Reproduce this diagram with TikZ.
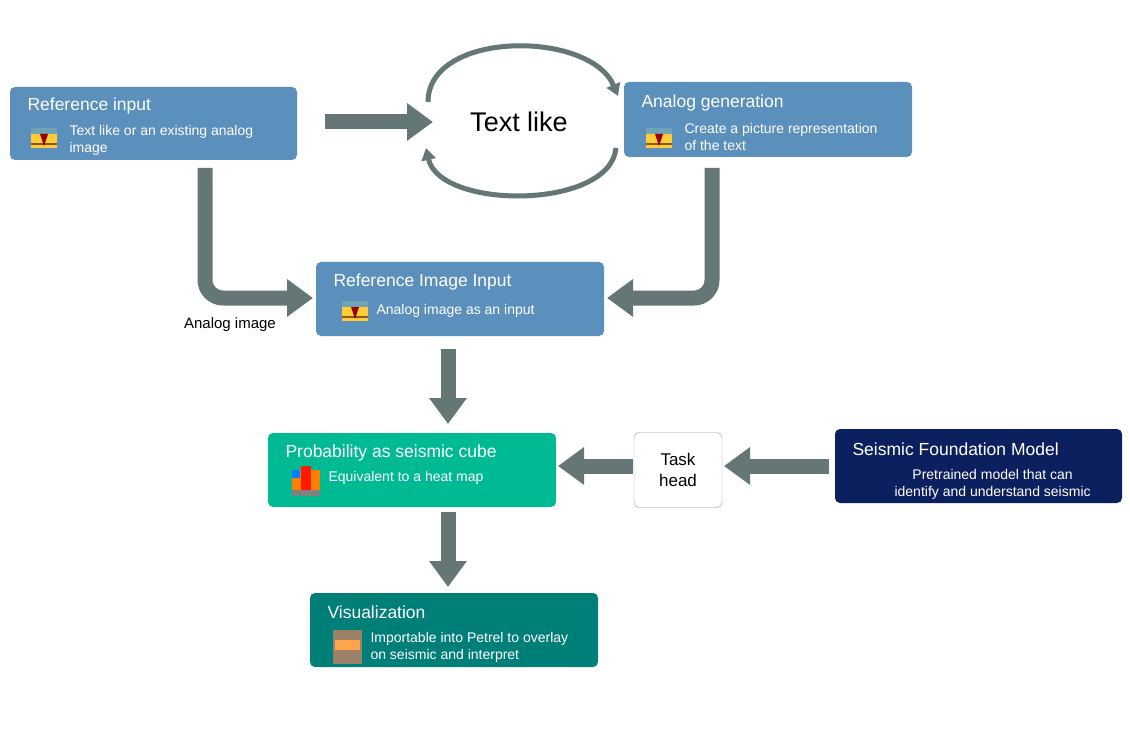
\documentclass[tikz,border=0pt]{standalone}
\usepackage{fontspec}
\setmainfont{Liberation Sans}
\usetikzlibrary{arrows.meta}
\definecolor{bluebox}{RGB}{91,143,188}
\definecolor{greenbox}{RGB}{0,186,148}
\definecolor{tealbox}{RGB}{0,126,120}
\definecolor{navybox}{RGB}{12,32,96}
\definecolor{arr}{RGB}{100,118,117}
\begin{document}
\begin{tikzpicture}[x=1pt,y=-1pt,
  box/.style={rounded corners=5pt,draw=none},
  ttl/.style={anchor=west,text=white,font=\fontsize{17.5}{19}\selectfont},
  sub/.style={anchor=west,text=white,align=left,font=\fontsize{14}{17}\selectfont},
  big/.style={line width=15pt,draw=arr,-{Triangle[width=36pt,length=26pt]}},
  cyc/.style={line width=5pt,draw=arr,-{Triangle[width=14pt,length=12pt]}},
  icon/.pic={\fill[orange!50!yellow!80!white] (-13,-10) rectangle (13,10);
    \fill[cyan!40!gray] (-13,-10) rectangle (13,-4);
    \fill[brown!70!black] (-13,5) rectangle (13,7);
    \fill[red!60!black] (-4,-4) -- (0,8) -- (4,-4) -- cycle;}
  ]
\useasboundingbox (0,0) rectangle (1130,730);
\fill[white] (0,0) rectangle (1130,730);
% boxes
\fill[bluebox,box] (10,87) rectangle (297,160);
\node (ri) at (153,123) {};
\node[ttl] at (24,106) {Reference input};
\pic at (44,138) {icon};
\node[sub] at (66,140) {Text like or an existing analog\\image};

\fill[bluebox,box] (624,82) rectangle (912,157);
\node (ag) at (768,120) {};
\node[ttl] at (638,103) {Analog generation};
\pic at (659,138) {icon};
\node[sub] at (681,137) {Create a picture representation\\of the text};

\fill[bluebox,box] (316,262) rectangle (604,336);
\node (rii) at (460,299) {};
\node[ttl] at (330,282) {Reference Image Input};
\pic at (355,311) {icon};
\node[sub] at (373,311) {Analog image as an input};

\fill[greenbox,box] (268,433) rectangle (556,507);
\node (pr) at (412,470) {};
\node[ttl] at (282,453) {Probability as seismic cube};
\fill[orange] (292,470) rectangle (320,496);
\fill[red!80!orange] (301,466) rectangle (311,492);
\fill[blue!50!cyan] (292,470) rectangle (300,478);
\fill[gray] (292,490) rectangle (320,496);
\node[sub] at (325,478) {Equivalent to a heat map};

\fill[tealbox,box] (310,593) rectangle (598,667);
\node (vi) at (454,630) {};
\node[ttl] at (324,612) {Visualization};
\fill[brown!40!gray] (333,630) rectangle (362,664);
\fill[orange!70] (335,640) rectangle (360,650);
\node[sub] at (367,647) {Importable into Petrel to overlay\\on seismic and interpret};

\node[draw=gray!80,rounded corners=5pt,minimum width=88pt,minimum height=75pt,align=center,font=\fontsize{17}{21}\selectfont] (th) at (678,470) {Task\\head};

\fill[navybox,box] (835,429) rectangle (1122,503);
\node (sf) at (978,466) {};
\node[ttl] at (849,449) {Seismic Foundation Model};
\node[sub,align=center] at (891,484) {Pretrained model that can\\identify and understand seismic};

% text like
\node[font=\fontsize{27}{30}\selectfont] (tl) at (519,122) {Text like};
\coordinate (a1) at (325,122);
\draw[big] (a1) -- (433,122);
\draw[cyc] (428,102) .. controls (428,30) and (590,30) .. (618,96);
\draw[cyc] (616,148) .. controls (610,210) and (440,210) .. (426,148);

% L arrows
\draw[big,rounded corners=18pt] (205,168) -- (205,298) -- (313,298);
\node[font=\fontsize{15}{17}\selectfont] at (230,325) {Analog image};
\draw[big,rounded corners=18pt] (712,168) -- (712,298) -- (607,298);

\draw[big] (448,349) -- (448,424);
\draw[big] (448,512) -- (448,587);
\draw[big] (633,466) -- (558,466);
\draw[big] (829,466) -- (724,466);
\end{tikzpicture}
\end{document}
